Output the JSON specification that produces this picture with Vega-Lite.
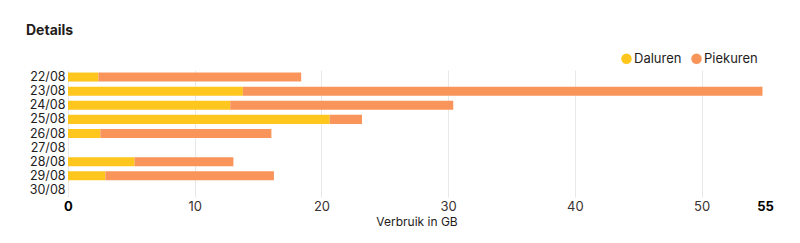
{
  "$schema": "https://vega.github.io/schema/vega-lite/v6.json",
  "autosize": "none",
  "width": 697,
  "height": 127,
  "padding": {"left": 68, "top": 70, "right": 35, "bottom": 46},
  "background": "white",
  "config": {
    "font": "Inter",
    "view": {"stroke": null}
  },
  "title": {
    "text": "Details",
    "anchor": "start",
    "frame": "group",
    "fontSize": 14,
    "fontWeight": "bold",
    "color": "#231c1a",
    "dx": -42,
    "dy": 21,
    "offset": 35
  },
  "data": {
    "values": [
      {"date": "22/08", "type": "Daluren", "gb": 2.4},
      {"date": "22/08", "type": "Piekuren", "gb": 16.0},
      {"date": "23/08", "type": "Daluren", "gb": 13.8},
      {"date": "23/08", "type": "Piekuren", "gb": 41.0},
      {"date": "24/08", "type": "Daluren", "gb": 12.8},
      {"date": "24/08", "type": "Piekuren", "gb": 17.6},
      {"date": "25/08", "type": "Daluren", "gb": 20.65},
      {"date": "25/08", "type": "Piekuren", "gb": 2.55},
      {"date": "26/08", "type": "Daluren", "gb": 2.55},
      {"date": "26/08", "type": "Piekuren", "gb": 13.5},
      {"date": "28/08", "type": "Daluren", "gb": 5.25},
      {"date": "28/08", "type": "Piekuren", "gb": 7.8},
      {"date": "29/08", "type": "Daluren", "gb": 2.95},
      {"date": "29/08", "type": "Piekuren", "gb": 13.3}
    ]
  },
  "mark": {"type": "bar"},
  "encoding": {
    "y": {
      "field": "date",
      "type": "nominal",
      "scale": {
        "domain": ["22/08", "23/08", "24/08", "25/08", "26/08", "27/08", "28/08", "29/08", "30/08"],
        "paddingInner": 0.36,
        "paddingOuter": 0.18
      },
      "axis": {
        "title": null,
        "domain": false,
        "ticks": false,
        "labelPadding": 3,
        "labelFontSize": 12.5,
        "labelColor": "#231c1a"
      }
    },
    "x": {
      "field": "gb",
      "type": "quantitative",
      "stack": "zero",
      "scale": {"domain": [0, 55], "nice": false},
      "axis": {
        "title": "Verbruik in GB",
        "titleFontSize": 12,
        "titleFontWeight": "normal",
        "titleColor": "#231c1a",
        "titlePadding": 3,
        "values": [0, 10, 20, 30, 40, 50, 55],
        "domain": false,
        "ticks": false,
        "labelFlush": false,
        "labelPadding": 3,
        "labelFontSize": 13,
        "labelColor": {"condition": {"test": "datum.value == 0 || datum.value == 55", "value": "#000000"}, "value": "#3a3230"},
        "labelFontWeight": {"condition": {"test": "datum.value == 0 || datum.value == 55", "value": "bold"}, "value": "normal"},
        "gridColor": "#e8e8e8",
        "gridOpacity": {"condition": {"test": "datum.value == 55", "value": 0}, "value": 1}
      }
    },
    "color": {
      "field": "type",
      "type": "nominal",
      "scale": {"domain": ["Daluren", "Piekuren"], "range": ["#ffc61e", "#f9955a"]},
      "legend": {
        "title": null,
        "orient": "none",
        "direction": "horizontal",
        "legendX": 552,
        "legendY": -18,
        "symbolType": "circle",
        "symbolSize": 110,
        "symbolOpacity": 1,
        "labelFontSize": 13,
        "labelColor": "#231c1a",
        "labelOffset": 1,
        "columnPadding": 8
      }
    },
    "order": {"field": "type", "sort": "ascending"}
  }
}
